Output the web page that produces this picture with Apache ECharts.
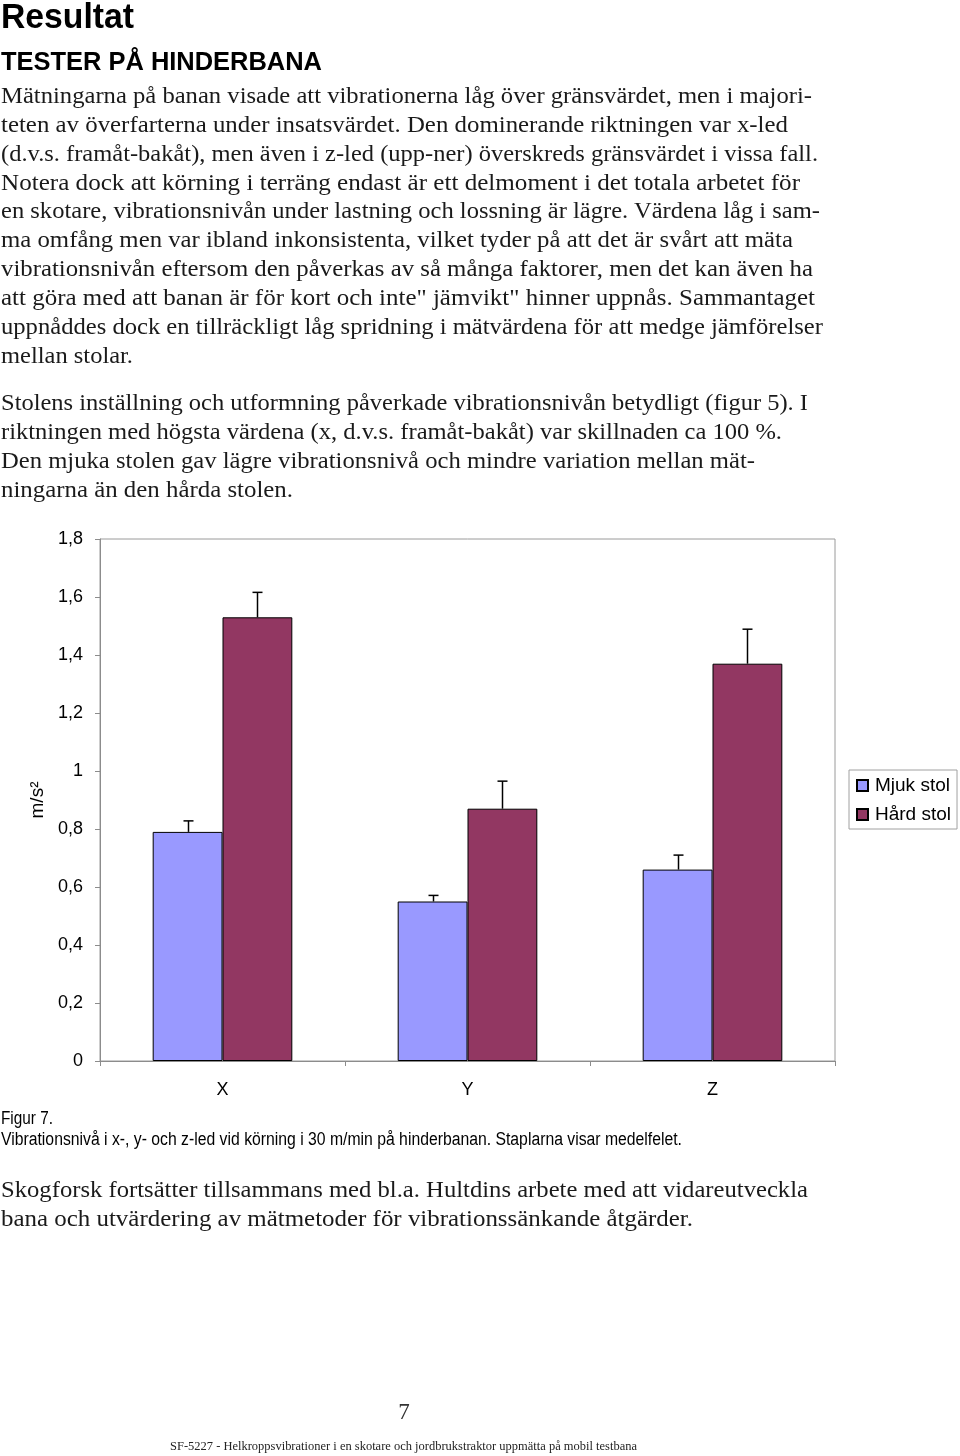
<!DOCTYPE html>
<html>
<head>
<meta charset="utf-8">
<script src="https://cdn.jsdelivr.net/npm/echarts@6/dist/echarts.min.js"></script>
<style>
html,body{margin:0;padding:0;background:#fff;}
#page{position:relative;width:960px;height:1456px;overflow:hidden;}
#chart{position:absolute;left:0;top:0;width:960px;height:1456px;}
#txt{position:absolute;left:0;top:0;width:960px;height:1456px;pointer-events:none;}
</style>
</head>
<body>
<div id="page">
<div id="chart"></div>
<svg id="txt" xmlns="http://www.w3.org/2000/svg" width="960" height="1456"></svg>
</div>
<script>
// ---- chart data ----
const categories = ['X', 'Y', 'Z'];
const seriesNames = ['Mjuk stol', 'Hård stol'];
const mjukValues = [0.79, 0.55, 0.66];
const hardValues = [1.53, 0.87, 1.37];
const mjukErrors = [0.038, 0.021, 0.05];
const hardErrors = [0.086, 0.095, 0.119];
const yTicks = [0, 0.2, 0.4, 0.6, 0.8, 1, 1.2, 1.4, 1.6, 1.8];
const yAxisName = 'm/s²';

// ---- page text ----
const titleText = 'Resultat';
const headingText = 'TESTER PÅ HINDERBANA';
const para1 = [
  'Mätningarna på banan visade att vibrationerna låg över gränsvärdet, men i majori-',
  'teten av överfarterna under insatsvärdet. Den dominerande riktningen var x-led',
  '(d.v.s. framåt-bakåt), men även i z-led (upp-ner) överskreds gränsvärdet i vissa fall.',
  'Notera dock att körning i terräng endast är ett delmoment i det totala arbetet för',
  'en skotare, vibrationsnivån under lastning och lossning är lägre. Värdena låg i sam-',
  'ma omfång men var ibland inkonsistenta, vilket tyder på att det är svårt att mäta',
  'vibrationsnivån eftersom den påverkas av så många faktorer, men det kan även ha',
  'att göra med att banan är för kort och inte" jämvikt" hinner uppnås. Sammantaget',
  'uppnåddes dock en tillräckligt låg spridning i mätvärdena för att medge jämförelser',
  'mellan stolar.'
];
const para2 = [
  'Stolens inställning och utformning påverkade vibrationsnivån betydligt (figur 5). I',
  'riktningen med högsta värdena (x, d.v.s. framåt-bakåt) var skillnaden ca 100 %.',
  'Den mjuka stolen gav lägre vibrationsnivå och mindre variation mellan mät-',
  'ningarna än den hårda stolen.'
];
const captionLines = [
  'Figur 7.',
  'Vibrationsnivå i x-, y- och z-led vid körning i 30 m/min på hinderbanan. Staplarna visar medelfelet.'
];
const para3 = [
  'Skogforsk fortsätter tillsammans med bl.a. Hultdins arbete med att vidareutveckla',
  'bana och utvärdering av mätmetoder för vibrationssänkande åtgärder.'
];
const pageNumber = '7';
const footerText = 'SF-5227 - Helkroppsvibrationer i en skotare och jordbrukstraktor uppmätta på mobil testbana';

// ---- text layout (baselines / fitted widths) ----
const para1Widths = [812, 788, 818, 800, 820, 793, 813, 815, 823, 133];
const para2Widths = [808, 782, 755, 293];
const para3Widths = [808, 693];

const svgNS = 'http://www.w3.org/2000/svg';
const svg = document.getElementById('txt');
function addText(str, x, y, opts) {
  const t = document.createElementNS(svgNS, 'text');
  t.setAttribute('x', x);
  t.setAttribute('y', y);
  t.setAttribute('font-family', opts.family);
  t.setAttribute('font-size', opts.size);
  if (opts.weight) t.setAttribute('font-weight', opts.weight);
  t.setAttribute('fill', opts.color || '#1a1a1a');
  if (opts.width) {
    t.setAttribute('textLength', opts.width);
    t.setAttribute('lengthAdjust', 'spacingAndGlyphs');
  }
  if (opts.anchor) t.setAttribute('text-anchor', opts.anchor);
  t.textContent = str;
  svg.appendChild(t);
}
const SERIF = "'Liberation Serif','DejaVu Serif',serif";
const SANS = "'Liberation Sans',Arial,sans-serif";
const NARROW = "'Liberation Sans Narrow','Liberation Sans',Arial,sans-serif";

addText(titleText, 1, 28, {family: SANS, size: 35, weight: 'bold', color: '#000', width: 133});
addText(headingText, 1, 70, {family: SANS, size: 25, weight: 'bold', color: '#000', width: 321});
para1.forEach((l, i) => addText(l, 1, 103 + i * 28.85, {family: SERIF, size: 23, width: para1Widths[i] - 1}));
para2.forEach((l, i) => addText(l, 1, 410 + i * 28.85, {family: SERIF, size: 23, width: para2Widths[i] - 1}));
addText(captionLines[0], 1, 1124, {family: NARROW, size: 18, color: '#000', width: 52});
addText(captionLines[1], 1, 1145, {family: NARROW, size: 18, color: '#000', width: 681});
para3.forEach((l, i) => addText(l, 1, 1197 + i * 28.85, {family: SERIF, size: 23, width: para3Widths[i] - 1}));
addText(pageNumber, 404, 1419, {family: SERIF, size: 23, anchor: 'middle', color: '#333'});
addText(footerText, 170, 1450, {family: SERIF, size: 13, color: '#222', width: 467});

// ---- chart ----
const chart = echarts.init(document.getElementById('chart'));
const BAR_CAT_GAP = 0.43;
const errData = [];
categories.forEach((c, i) => {
  errData.push([i, mjukValues[i], mjukErrors[i], 0]);
  errData.push([i, hardValues[i], hardErrors[i], 1]);
});
function fmt(v) { return String(Math.round(v * 10) / 10).replace('.', ','); }

chart.setOption({
  animation: false,
  backgroundColor: 'transparent',
  textStyle: {fontFamily: 'Liberation Sans'},
  grid: {left: 100, top: 539, width: 735, height: 522, show: true, borderColor: '#9a9a9a', borderWidth: 1, containLabel: false},
  legend: {
    data: seriesNames,
    orient: 'vertical',
    left: 849, top: 770,
    padding: [5, 6, 4, 7],
    itemGap: 8,
    itemWidth: 11, itemHeight: 11,
    icon: 'rect',
    borderColor: '#a0a0a0', borderWidth: 1,
    backgroundColor: '#fff',
    textStyle: {fontSize: 19, color: '#000', fontFamily: 'Liberation Sans', padding: [0, 0, 0, 2], lineHeight: 21}
  },
  xAxis: {
    type: 'category',
    data: categories,
    axisLine: {lineStyle: {color: '#8c8c8c', width: 1}},
    axisTick: {show: true, length: 5, lineStyle: {color: '#8c8c8c'}},
    axisLabel: {fontSize: 18, color: '#000', margin: 20, fontFamily: 'Liberation Sans'},
    splitLine: {show: false}
  },
  yAxis: {
    type: 'value',
    min: 0, max: yTicks[yTicks.length - 1], interval: yTicks[1] - yTicks[0],
    name: yAxisName,
    nameLocation: 'middle',
    nameRotate: 90,
    nameGap: 53,
    nameTextStyle: {fontSize: 19, color: '#000', fontFamily: 'Liberation Sans'},
    axisLine: {show: true, lineStyle: {color: '#8c8c8c', width: 1}},
    axisTick: {show: true, length: 5, lineStyle: {color: '#8c8c8c'}},
    axisLabel: {fontSize: 18, color: '#000', margin: 17, formatter: fmt, fontFamily: 'Liberation Sans'},
    splitLine: {show: false}
  },
  series: [
    {
      name: seriesNames[0], type: 'bar', data: mjukValues,
      barGap: '0%', barCategoryGap: (BAR_CAT_GAP * 100) + '%',
      itemStyle: {color: '#9999ff', borderColor: '#000', borderWidth: 1}
    },
    {
      name: seriesNames[1], type: 'bar', data: hardValues,
      barGap: '0%', barCategoryGap: (BAR_CAT_GAP * 100) + '%',
      itemStyle: {color: '#923762', borderColor: '#000', borderWidth: 1}
    },
    {
      name: 'err', type: 'custom', silent: true, z: 10,
      data: errData,
      encode: {x: 0, y: 1},
      renderItem: function (params, api) {
        const cat = api.value(0), v = api.value(1), e = api.value(2), s = api.value(3);
        const bandW = api.size([1, 0])[0];
        const barW = bandW * (1 - BAR_CAT_GAP) / 2;
        const base = api.coord([cat, v]);
        const x = Math.round(base[0] + (s === 0 ? -barW / 2 : barW / 2)) + 0.5;
        const top = api.coord([cat, v + e])[1];
        return {
          type: 'group',
          children: [
            {type: 'line', shape: {x1: x, y1: base[1], x2: x, y2: top}, style: {stroke: '#000', lineWidth: 1.5}},
            {type: 'line', shape: {x1: x - 5, y1: top, x2: x + 5, y2: top}, style: {stroke: '#000', lineWidth: 1.5}}
          ]
        };
      }
    }
  ]
});
</script>
</body>
</html>
